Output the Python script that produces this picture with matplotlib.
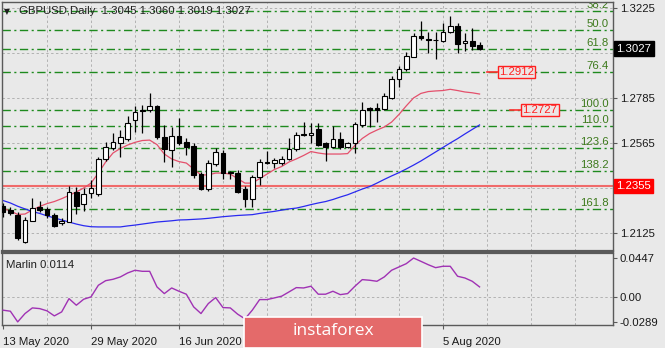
import matplotlib
matplotlib.use("Agg")
import matplotlib.pyplot as plt
import matplotlib.transforms as mtransforms
from matplotlib.patches import Rectangle
import numpy as np

plt.rcParams['font.family'] = ['Liberation Sans', 'DejaVu Sans']

# ---------------- data ----------------
opens = [1.2258, 1.2239, 1.2214, 1.2084, 1.2186, 1.2252, 1.2242, 1.2214, 1.2174, 1.2182,
         1.2328, 1.2268, 1.2323, 1.2317, 1.2486, 1.2543, 1.2567, 1.2584, 1.2678, 1.2727,
         1.2727, 1.2747, 1.2597, 1.2532, 1.2600, 1.2569, 1.2551, 1.2414, 1.2340, 1.2463,
         1.2516, 1.2422, 1.2418, 1.2340, 1.2291, 1.2398, 1.2475, 1.2467, 1.2470, 1.2488,
         1.2535, 1.2611, 1.2605, 1.2633, 1.2564, 1.2548, 1.2583, 1.2548, 1.2564, 1.2654,
         1.2735, 1.2736, 1.2730, 1.2784, 1.2877, 1.2926, 1.2987, 1.3088, 1.3074, 1.3070,
         1.3064, 1.3109, 1.3139, 1.3053, 1.3065, 1.3045]
highs = [1.2271, 1.2253, 1.2230, 1.2204, 1.2296, 1.2284, 1.2255, 1.2225, 1.2198, 1.2356,
         1.2352, 1.2345, 1.2387, 1.2497, 1.2572, 1.2616, 1.2629, 1.2700, 1.2747, 1.2751,
         1.2811, 1.2751, 1.2654, 1.2645, 1.2686, 1.2590, 1.2566, 1.2426, 1.2483, 1.2540,
         1.2532, 1.2430, 1.2434, 1.2356, 1.2410, 1.2486, 1.2527, 1.2491, 1.2500, 1.2589,
         1.2621, 1.2667, 1.2662, 1.2662, 1.2572, 1.2649, 1.2621, 1.2572, 1.2668, 1.2767,
         1.2743, 1.2760, 1.2809, 1.2893, 1.2942, 1.3012, 1.3103, 1.3163, 1.3109, 1.3109,
         1.3153, 1.3186, 1.3152, 1.3103, 1.3129, 1.3060]
lows = [1.2206, 1.2214, 1.2092, 1.2076, 1.2183, 1.2229, 1.2198, 1.2157, 1.2165, 1.2180,
        1.2218, 1.2235, 1.2297, 1.2307, 1.2480, 1.2532, 1.2499, 1.2576, 1.2621, 1.2616,
        1.2717, 1.2587, 1.2474, 1.2450, 1.2556, 1.2507, 1.2395, 1.2336, 1.2333, 1.2454,
        1.2389, 1.2389, 1.2322, 1.2252, 1.2255, 1.2361, 1.2463, 1.2444, 1.2460, 1.2483,
        1.2525, 1.2602, 1.2564, 1.2550, 1.2479, 1.2541, 1.2535, 1.2540, 1.2516, 1.2644,
        1.2645, 1.2670, 1.2727, 1.2781, 1.2838, 1.2917, 1.2986, 1.3069, 1.3004, 1.2975,
        1.3059, 1.3103, 1.3007, 1.3017, 1.3020, 1.3019]
closes = [1.2230, 1.2223, 1.2101, 1.2190, 1.2247, 1.2239, 1.2214, 1.2162, 1.2186, 1.2328,
          1.2258, 1.2317, 1.2345, 1.2486, 1.2545, 1.2572, 1.2594, 1.2662, 1.2717, 1.2722,
          1.2747, 1.2597, 1.2537, 1.2600, 1.2567, 1.2548, 1.2410, 1.2341, 1.2467, 1.2523,
          1.2418, 1.2418, 1.2328, 1.2291, 1.2398, 1.2475, 1.2467, 1.2483, 1.2488, 1.2535,
          1.2605, 1.2606, 1.2616, 1.2556, 1.2548, 1.2585, 1.2548, 1.2564, 1.2659, 1.2727,
          1.2727, 1.2728, 1.2795, 1.2877, 1.2926, 1.2991, 1.3088, 1.3077, 1.3069, 1.3068,
          1.3106, 1.3139, 1.3048, 1.3065, 1.3041, 1.3027]

ma_red = [1.2247, 1.2234, 1.2217, 1.2219, 1.2239, 1.2256, 1.2270, 1.2280, 1.2294, 1.2310,
          1.2327, 1.2346, 1.2370, 1.2419, 1.2473, 1.2517, 1.2539, 1.2556, 1.2569, 1.2578,
          1.2580, 1.2558, 1.2512, 1.2488, 1.2475, 1.2468, 1.2439, 1.2410, 1.2410, 1.2419,
          1.2419, 1.2414, 1.2392, 1.2370, 1.2370, 1.2392, 1.2414, 1.2436, 1.2451, 1.2473,
          1.2488, 1.2505, 1.2524, 1.2517, 1.2512, 1.2512, 1.2512, 1.2514, 1.2554, 1.2588,
          1.2612, 1.2629, 1.2644, 1.2668, 1.2705, 1.2747, 1.2786, 1.2808, 1.2817, 1.2820,
          1.2822, 1.2828, 1.2822, 1.2815, 1.2811, 1.2805]
ma_blue = [1.2285, 1.2273, 1.2257, 1.2244, 1.2231, 1.2222, 1.2210, 1.2200, 1.2190, 1.2180,
           1.2170, 1.2162, 1.2157, 1.2156, 1.2156, 1.2156, 1.2156, 1.2161, 1.2165, 1.2170,
           1.2175, 1.2180, 1.2183, 1.2186, 1.2190, 1.2191, 1.2193, 1.2195, 1.2198, 1.2202,
           1.2206, 1.2209, 1.2212, 1.2214, 1.2216, 1.2222, 1.2227, 1.2232, 1.2238, 1.2244,
           1.2248, 1.2256, 1.2265, 1.2273, 1.2280, 1.2290, 1.2302, 1.2313, 1.2327, 1.2341,
           1.2353, 1.2370, 1.2388, 1.2405, 1.2421, 1.2439, 1.2458, 1.2478, 1.2500, 1.2522,
           1.2544, 1.2566, 1.2587, 1.2610, 1.2632, 1.2654]

marlin = [-0.0154, -0.0166, -0.0289, -0.0193, -0.0128, -0.0136, -0.0162, -0.0220, -0.0174, -0.0021,
          -0.0097, -0.0028, -0.0001, 0.0133, 0.0186, 0.0202, 0.0229, 0.0275, 0.0306, 0.0294,
          0.0294, 0.0114, 0.0037, 0.0102, 0.0064, 0.0030, -0.0116, -0.0193, -0.0078, -0.0009,
          -0.0124, -0.0128, -0.0200, -0.0254, -0.0154, -0.0032, -0.0032, -0.0013, 0.0007, 0.0056,
          0.0106, 0.0102, 0.0122, 0.0030, 0.0030, 0.0064, 0.0025, 0.0037, 0.0122, 0.0198,
          0.0191, 0.0179, 0.0229, 0.0306, 0.0344, 0.0382, 0.0447, 0.0409, 0.0370, 0.0336,
          0.0352, 0.0352, 0.0237, 0.0217, 0.0179, 0.0114]

fib_labels = ["38.2", "50.0", "61.8", "76.4", "100.0", "110.0", "123.6", "138.2", "161.8"]
fib_prices = [1.3211, 1.3119, 1.3026, 1.2912, 1.2727, 1.2649, 1.2542, 1.2428, 1.2243]

support_level = 1.2355
target_levels = [1.2912, 1.2727]
last_price = 1.3027

price_ticks = [1.3225, 1.3005, 1.2785, 1.2565, 1.2345, 1.2125]
price_tick_labels = ["1.3225", "1.3005", "1.2785", "1.2565", "", "1.2125"]
marlin_ticks = [0.0447, 0.0, -0.0289]
marlin_tick_labels = ["0.0447", "0.00", "-0.0289"]
date_tick_idx = [0, 12, 24, 36, 48, 60]
date_labels = ["13 May 2020", "29 May 2020", "16 Jun 2020", "", "", "5 Aug 2020"]
title = "GBPUSD,Daily  1.3045 1.3060 1.3019 1.3027"

# ---------------- layout ----------------
W, H = 665, 348
BG = '#e9e9e9'
fig = plt.figure(figsize=(W / 100, H / 100), dpi=100)
fig.patch.set_facecolor(BG)


def px_axes(x0, y0, x1, y1):
    return fig.add_axes([x0 / W, 1 - y1 / H, (x1 - x0) / W, (y1 - y0) / H])


ax = px_axes(2, 2, 613, 251)
ax2 = px_axes(2, 253, 613, 325)
for a in (ax, ax2):
    a.set_facecolor(BG)
    for s in a.spines.values():
        s.set_color('#5a5a5a')
        s.set_linewidth(1.0)
ax.spines['bottom'].set_linewidth(1.6)
ax2.spines['top'].set_linewidth(1.6)

n = len(closes)
x = np.arange(n)
o = np.array(opens); c = np.array(closes); h = np.array(highs); l = np.array(lows)
XMIN, XMAX = -0.14, 83.2
ax.set_xlim(XMIN, XMAX)
ax.set_ylim(1.20385, 1.32543)
ax2.set_xlim(XMIN, XMAX)
ax2.set_ylim(-0.0325, 0.0505)

GRID = dict(color='#b2b2b2', lw=0.7, ls=(0, (2.5, 2.5)), zorder=0.5)
for xi in range(6, 84, 6):
    ax.axvline(xi, **GRID)
    ax2.axvline(xi, **GRID)
for p in price_ticks:
    ax.axhline(p, **GRID)
ax2.axhline(0.0, **GRID)

# fibonacci levels
blend = mtransforms.blended_transform_factory(ax.transAxes, ax.transData)
for lbl, p in zip(fib_labels, fib_prices):
    ax.axhline(p, color='#1e8a1e', lw=1.0, ls=(0, (6, 2.5, 1.5, 2.5)), zorder=1)
    ax.text(0.9935, p + 0.0004, lbl, transform=blend, ha='right', va='bottom',
            color='#3d7a1c', fontsize=8.2, clip_on=True, zorder=2)

ax.axhline(support_level, color='#f06a6a', lw=1.5, zorder=1.2)

# moving averages
ax.plot(x, ma_red, color='#e4506c', lw=0.9, zorder=2)
ax.plot(x, ma_blue, color='#2a2af0', lw=0.9, zorder=2)

# candles
ax.vlines(x, l, h, color='black', lw=0.9, zorder=3)
bottoms = np.minimum(o, c)
heights = np.maximum(np.abs(c - o), 0.00012)
colors = ['white' if cc >= oo else 'black' for oo, cc in zip(o, c)]
ax.bar(x, heights, bottom=bottoms, width=0.64, color=colors, edgecolor='black',
       linewidth=0.8, zorder=4)

# target labels
for p, x0 in zip(target_levels, [66.0, 69.2]):
    ax.plot([x0, x0 + 1.5], [p, p], color='#ff3030', lw=1.2, zorder=5)
    ax.text(x0 + 1.65, p, f"{p:.4f}", color='#ff2020', fontsize=8.2, ha='left', va='center',
            zorder=6, bbox=dict(boxstyle='square,pad=0.12', fc='#ece6e6', ec='#ff2020', lw=1))

# right price axis
ax.yaxis.tick_right()
ax.set_yticks(price_ticks)
ax.set_yticklabels(price_tick_labels)
ax.tick_params(axis='y', length=3, width=0.8, pad=2, labelsize=8.2, colors='#5a5a5a',
               labelcolor='#1a1a1a')
ax.tick_params(axis='x', bottom=False, labelbottom=False)

ax.text(1.0055, last_price, f"{last_price:.4f}", transform=blend, ha='left', va='center',
        color='white', fontsize=8.2, clip_on=False, zorder=10,
        bbox=dict(boxstyle='square,pad=0.2', fc='black', ec='black'))
ax.text(1.0055, support_level, f"{support_level:.4f}", transform=blend, ha='left', va='center',
        color='white', fontsize=8.2, clip_on=False, zorder=10,
        bbox=dict(boxstyle='square,pad=0.2', fc='#ff0000', ec='#ff0000'))

# title
ax.text(0.004, 0.962, "\u25bc", transform=ax.transAxes, fontsize=5.5, color='#202020',
        va='center', ha='left', family='DejaVu Sans')
ax.text(0.028, 0.962, title, transform=ax.transAxes, fontsize=8.2, color='#202020',
        va='center', ha='left')

# indicator
ax2.plot(x, marlin, color='#a032b4', lw=1.0, zorder=3)
ax2.text(0.006, 0.84, f"Marlin {marlin[-1]:.4f}", transform=ax2.transAxes, fontsize=8.2,
         color='#202020', va='center', ha='left')
ax2.yaxis.tick_right()
ax2.set_yticks(marlin_ticks)
ax2.set_yticklabels(marlin_tick_labels)
ax2.tick_params(axis='y', length=3, width=0.8, pad=2, labelsize=8.2, colors='#5a5a5a',
                labelcolor='#1a1a1a')
ax2.set_xticks(date_tick_idx)
ax2.set_xticklabels(date_labels)
ax2.tick_params(axis='x', length=3, width=0.8, pad=5.5, labelsize=8.2, colors='#5a5a5a',
                labelcolor='#1a1a1a')
for t in ax2.get_xticklabels():
    t.set_ha('left')

# watermark box
rx0, ry0, rx1, ry1 = 244, 317, 422, 348
rect = Rectangle((rx0 / W, 1 - ry1 / H), (rx1 - rx0) / W, (ry1 - ry0) / H,
                 transform=fig.transFigure, fc='#e46a6a', ec='white', lw=1.2, zorder=20)
fig.add_artist(rect)
fig.text((rx0 + rx1) / 2 / W, 1 - 331 / H, "instaforex", color='white', fontsize=12.5,
         family='Open Sans', ha='center', va='center', zorder=21)

fig.savefig("out.png", dpi=100, facecolor=BG)
